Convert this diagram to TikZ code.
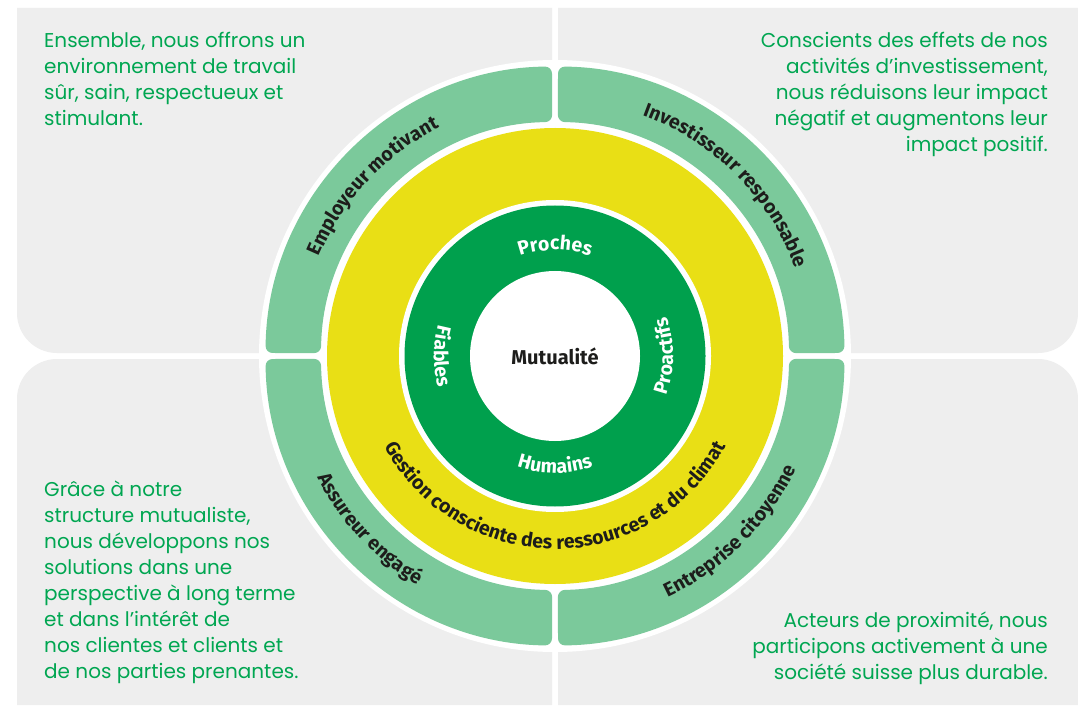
\documentclass[tikz,border=0pt]{standalone}
\usepackage{fontspec}
\usetikzlibrary{decorations.text,calc}
\newfontfamily\bodyfont{Poppins}
\newfontfamily\ringfont{Fira Sans}
\definecolor{panelgrey}{HTML}{EEEEEE}
\definecolor{outergreen}{HTML}{7BC99B}
\definecolor{ringyellow}{HTML}{E9DF15}
\definecolor{innergreen}{HTML}{00A04D}
\definecolor{textgreen}{HTML}{00A651}
\definecolor{ink}{HTML}{1D1D1B}
\newcommand\ringtxt{\ringfont\bfseries\fontsize{19.5}{19.5}\selectfont}

\begin{document}
\begin{tikzpicture}[x=1pt,y=1pt,
panel/.style={fill=panelgrey},
blurb/.style={
inner sep=0pt,
text=textgreen,
font=\bodyfont\fontsize{20}{26}\selectfont
},
ring label/.style={decorate,decoration={text along path,text align=center,
text color=ink,text={|\ringtxt|#1}}},
core label/.style={decorate,decoration={text along path,text align=center,
text color=white,text={|\ringtxt|#1}}},]

\fill[white] (0,0) rectangle (1078,705);
\useasboundingbox (0,0) rectangle (1078,705);
\coordinate (c) at (555,349);

\fill[panel] (17,697) -- (552,697) -- (552,352) -- (57,352) arc[start angle=270,end angle=180,radius=40] -- cycle;
\fill[panel] (558,697) -- (1078,697) -- (1078,392) arc[start angle=0,end angle=-90,radius=40] -- (558,352) -- cycle;
\fill[panel] (17,0) -- (552,0) -- (552,346) -- (57,346) arc[start angle=90,end angle=180,radius=40] -- cycle;
\fill[panel] (558,0) -- (1078,0) -- (1078,306) arc[start angle=0,end angle=90,radius=40] -- (558,346) -- cycle;

\fill[white] (c) circle[radius=296];
\foreach \a in {0,90,180,270}
  \fill[outergreen,rounded corners=7] ([shift={(\a+0.6:289.5)}]c) arc[start angle=\a+0.6,end angle=\a+89.4,radius=289.5]
    -- ([shift={(\a+89.3:234)}]c) arc[start angle=\a+89.3,end angle=\a+0.7,radius=234] -- cycle;
\fill[ringyellow] (c) circle[radius=228];
\fill[white] (c) circle[radius=156];
\fill[innergreen] (c) circle[radius=150.5];
\fill[white] (c) circle[radius=85];

\node (core) at (c) {\ringfont\bfseries\fontsize{20}{20}\selectfont\color{ink}Mutualité};

\path[ring label=Employeur motivant] ([shift={(180:256)}]c) arc[start angle=180,end angle=94,radius=256];
\path[ring label=Investisseur responsable] ([shift={(88:256)}]c) arc[start angle=88,end angle=2,radius=256];
\path[ring label=Assureur engagé] ([shift={(181:267)}]c) arc[start angle=181,end angle=265,radius=267];
\path[ring label=Entreprise citoyenne] ([shift={(271:266)}]c) arc[start angle=271,end angle=359,radius=266];
\path[ring label=Gestion consciente des ressources et du climat] ([shift={(185:193)}]c) arc[start angle=185,end angle=355,radius=193];

\path[core label=Proches] ([shift={(150:106)}]c) arc[start angle=150,end angle=30,radius=106];
\path[core label=Humains] ([shift={(210:117)}]c) arc[start angle=210,end angle=330,radius=117];
\path[core label=Proactifs] ([shift={(-60:118)}]c) arc[start angle=-60,end angle=60,radius=118];
\path[core label=Fiables] ([shift={(120:121)}]c) arc[start angle=120,end angle=240,radius=121];

\node (employer) [blurb,anchor=north west,align=left] at (44,673) {Ensemble, nous offrons un\\environnement de travail\\sûr, sain, respectueux et\\stimulant.};
\node (investor) [blurb,anchor=north east,align=right] at (1048,673) {Conscients des effets de nos\\activités d’investissement,\\nous réduisons leur impact\\négatif et augmentons leur\\impact positif.};
\node (insurer) [blurb,anchor=north west,align=left] at (44,224) {Grâce à notre\\structure mutualiste,\\nous développons nos\\solutions dans une\\perspective à long terme\\et dans l’intérêt de\\nos clientes et clients et\\de nos parties prenantes.};
\node (citizen) [blurb,anchor=north east,align=right] at (1048,93) {Acteurs de proximité, nous\\participons activement à une\\société suisse plus durable.};
\end{tikzpicture}
\end{document}
